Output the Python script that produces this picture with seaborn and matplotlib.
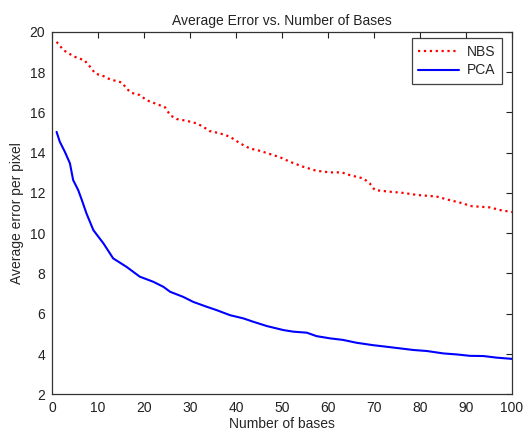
"""
Average error per pixel vs. number of bases, NBS against PCA
"""

import pandas as pd
import matplotlib
matplotlib.use("Agg")
import matplotlib.pyplot as plt
import seaborn as sns

# values
nbs_bases = [1, 2.5, 4, 5.5, 7, 8.3, 9.4, 11.2, 12.6, 15.1, 16.6, 17.3, 19.1, 20.6, 22.8,
             24.6, 25.7, 27.1, 29.3, 31.5, 32.9, 34.3, 36.5, 38.7, 40.9, 43, 45.2, 47.4,
             49.6, 51.7, 54.6, 57.5, 60.4, 63, 64.8, 67.7, 69.1, 70.2, 73.5, 76.4, 79.3,
             83.6, 86.5, 89.4, 90.9, 95.2, 97.4, 100]
nbs_error = [19.5, 19.09, 18.88, 18.7, 18.6, 18.26, 17.93, 17.8, 17.64, 17.49, 17.1, 16.97,
             16.86, 16.6, 16.41, 16.25, 15.86, 15.67, 15.58, 15.45, 15.28, 15.07, 14.96, 14.79,
             14.46, 14.21, 14.09, 13.93, 13.77, 13.55, 13.3, 13.1, 13.02, 13.02, 12.88, 12.72,
             12.47, 12.14, 12.06, 12.0, 11.9, 11.82, 11.64, 11.48, 11.35, 11.28, 11.15, 11.05]

pca_bases = [1, 1.7, 2.8, 3.9, 4.6, 5.7, 6.5, 7.5, 9, 11.2, 13.3, 16.2, 19.1, 22, 24.2, 25.7,
             28.5, 30.7, 33.6, 35.8, 38.7, 41.6, 43.8, 46.7, 50.3, 52.5, 55.4, 57.5, 60.4,
             63.3, 66.2, 69.8, 72.8, 75.7, 78.6, 81.5, 85.1, 88, 90.9, 93.8, 96.7, 100]
pca_error = [15.03, 14.54, 14.04, 13.47, 12.64, 12.14, 11.64, 10.98, 10.15, 9.49, 8.75, 8.33,
             7.84, 7.59, 7.34, 7.09, 6.84, 6.59, 6.35, 6.18, 5.93, 5.77, 5.6, 5.39, 5.19, 5.11,
             5.06, 4.89, 4.78, 4.7, 4.56, 4.44, 4.36, 4.28, 4.2, 4.15, 4.03, 3.98, 3.91, 3.9,
             3.82, 3.76]

sns.set_style("white")
plt.rcParams['font.family'] = ['Liberation Sans', 'DejaVu Sans']
plt.rcParams['xtick.direction'] = 'in'
plt.rcParams['ytick.direction'] = 'in'

nbs = pd.DataFrame({'bases': nbs_bases, 'error': nbs_error})
pca = pd.DataFrame({'bases': pca_bases, 'error': pca_error})

fig = plt.figure(figsize=(5.23, 4.30), dpi=100)
ax = fig.add_axes([0.0994, 0.083, 0.8795, 0.843])

sns.lineplot(data=nbs, x='bases', y='error', ax=ax, color='#ff0000', linestyle=':',
             linewidth=1.6, label='NBS')
sns.lineplot(data=pca, x='bases', y='error', ax=ax, color='#0000ff', linestyle='-',
             linewidth=1.5, label='PCA')

ax.set_xlim(0, 100)
ax.set_ylim(2, 20)
ax.set_xticks(range(0, 101, 10))
ax.set_yticks(range(2, 21, 2))
ax.tick_params(axis='both', labelsize=10, length=4, width=0.8, colors='#222222',
               top=True, right=True, pad=5)
for side in ax.spines.values():
    side.set_color('#333333')
    side.set_linewidth(0.9)

ax.set_title('Average Error vs. Number of Bases', fontsize=10, color='#222222', pad=5)
ax.set_xlabel('Number of bases', fontsize=10, labelpad=1)
ax.set_ylabel('Average error per pixel', fontsize=10, labelpad=4)

leg = ax.legend(loc='upper right', bbox_to_anchor=(0.978, 0.982), borderaxespad=0,
                fontsize=10, frameon=True, fancybox=False, handlelength=2.9,
                borderpad=0.45, labelspacing=0.35, handletextpad=0.6)
leg.get_frame().set_edgecolor('#111111')
leg.get_frame().set_linewidth(0.9)

plt.savefig('out.png', dpi=100)
